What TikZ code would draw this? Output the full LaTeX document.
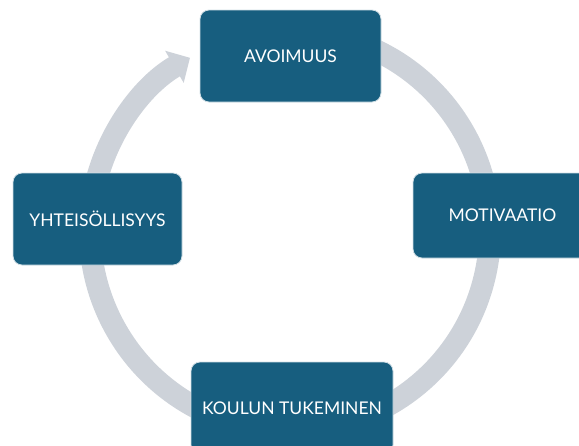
\documentclass[tikz,border=0pt]{standalone}
\usepackage{fontspec}
\setmainfont{Lato}
\usetikzlibrary{arrows.meta,calc}
\definecolor{boxblue}{HTML}{175E7F}
\definecolor{ringgray}{HTML}{CDD2D9}
\begin{document}
\begin{tikzpicture}[x=1pt,y=1pt,
  box/.style={draw=white!80!boxblue, line width=0.8pt, fill=boxblue,
              rounded corners=9pt, text=white, inner sep=0pt,
              font=\fontsize{17.5}{20}\selectfont},
  ring/.style={ringgray, line width=22pt,
               -{Triangle[width=36pt,length=18pt]}}]
\useasboundingbox (0,0) rectangle (579,-445);
\clip (0,0) rectangle (579,-445);
\coordinate (hub) at (290,-231);
\coordinate (tail) at ($(hub)+(75:200pt)$);
\draw[ring] (tail) arc[start angle=75, end angle=-240, radius=200pt];
\node[box, minimum width=181pt, minimum height=92pt] (avoimuus) at (290.5,-56) {AVOIMUUS};
\node[box, minimum width=179pt, minimum height=85pt] (motivaatio) at (502.5,-215.5) {MOTIVAATIO};
\node[box, minimum width=202pt, minimum height=92pt] (koulu) at (292,-408) {KOULUN TUKEMINEN};
\node[box, minimum width=169pt, minimum height=92pt] (yhteiso) at (97.5,-219) {YHTEISÖLLISYYS};
\end{tikzpicture}
\end{document}
